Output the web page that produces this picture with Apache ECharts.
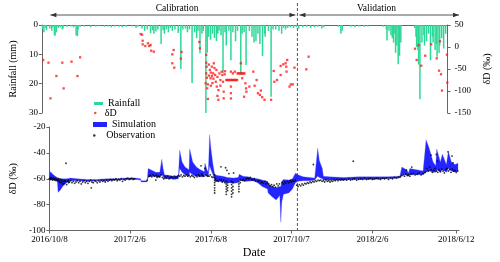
<!DOCTYPE html>
<html><head><meta charset="utf-8">
<script src="https://cdn.jsdelivr.net/npm/echarts@6/dist/echarts.min.js"></script>
<style>html,body{margin:0;padding:0;background:#fff}#c{width:500px;height:262px}</style>
</head><body><div id="c"></div><script>
// x values are days after 2016/10/8
const tickDays = [0,121,243,364,486,612];
const tickLabels = ['2016/10/8','2017/2/6','2017/6/8','2017/10/7','2018/2/6','2018/6/12'];
const calibrationEndDay = 373;

const rainfall = [[1,1.5],[3,2.5],[6,1.0],[7,1.8],[12,1.2],[15,2.0],[16,0.8],[19,3.4],[20,3.7],[22,2.5],[25,1.0],[28,0.8],[31,1.5],[32,1.2],[38,0.6],[44,0.5],[48,0.8],[52,3.6],[54,3.8],[55,1.5],[58,0.6],[64,0.5],[74,0.8],[82,0.5],[87,0.4],[95,0.6],[101,0.5],[105,0.8],[111,0.5],[117,0.6],[122,0.8],[128,0.6],[137,0.5],[143,1.0],[146,0.5],[152,1.2],[156,2.0],[160,1.5],[165,2.8],[168,1.8],[170,3.0],[173,2.2],[176,1.5],[181,6.5],[184,1.8],[186,3.0],[189,1.5],[192,2.5],[195,1.0],[198,2.0],[202,1.5],[207,2.7],[211,15],[214,1.5],[218,1.2],[221,2.5],[224,1.5],[228,19.8],[232,2.5],[235,4.5],[237,2.0],[240,9.6],[243,3.0],[245,2.0],[249,30],[251,9.5],[253,4.0],[256,5.0],[259,3.0],[262,4.5],[265,5.5],[267,3.0],[269,2.0],[272,3.5],[275,16.4],[278,2.5],[280,7.0],[284,2.0],[287,12],[290,2.5],[294,5.5],[297,2.0],[302,17],[304,3.0],[307,2.5],[310,13.6],[315,2.0],[319,4.0],[322,6.0],[325,5.5],[328,3.0],[331,6.5],[335,10.6],[338,3.0],[339,4.0],[344,2.0],[348,24.5],[351,1.5],[355,1.5],[360,2.0],[364,3.0],[367,1.0],[370,1.5],[373,1.0],[377,0.8],[382,1.0],[386,0.6],[390,1.2],[396,0.8],[402,0.6],[408,1.0],[414,0.8],[419,0.6],[425,1.2],[428,0.8],[450,0.6],[454,3.0],[456,2.0],[469,0.6],[475,0.8],[481,0.5],[489,0.6],[495,0.5],[518,0.6],[523,1.5],[524,5.3],[527,2.0],[530,3.5],[532,4.5],[534,6.0],[536,3.0],[537,9.5],[539,7.0],[541,13.4],[543,10.5],[545,6.0],[566,1.0],[568,4.0],[569,7.5],[571,8.5],[572,13.5],[574,25.3],[577,6.0],[580,3.5],[581,7.0],[584,5.5],[587,3.0],[590,12],[593,4.0],[594,6.0],[597,8.5],[599,6.5],[600,10.8],[603,9.5],[604,7.0],[607,4.5],[610,8.0],[613,3.0]];

const rainDeltaD = [[2,-29.5],[10,-35.6],[13,-116.7],[22,-65.9],[31,-35.6],[33,-94],[45,-33.3],[54,-66],[58,-23.4],[150,29.5],[152,28],[153,14.3],[153,6],[157,2.3],[161,8.4],[163,2.3],[165,4.5],[166,-8.4],[170,-10.6],[200,-6.8],[198,-16.6],[198,-37],[201,-47],[239,11.4],[240,-3],[212,-11.4],[211,-26.5],
[249.5,-18],[249.5,-35.6],[249.5,-60],[248.6,-82.5],[251,-94],[252,-118],[255,-52],[258,-44.7],[261,-37],[260,-60],[256,-71],[263,-63.6],[264,-79],[265.5,-90],[266.5,-111],[268,-120],[273,-56],[274,-63.6],[275,-79],[276,-101.6],[276,-116.7],
[280,-75],[281.5,-75],[283,-75],[284.5,-75],[286,-75],[287.5,-75],[289,-75],[290.5,-75],[292,-75],[293.5,-75],[295,-75],[296.5,-75],
[287,-56],[290,-60],[293,-56],[287,-90],[287,-105],[287,-117],
[297,-60],[298.5,-60],[300,-60],[301.5,-60],[303,-60],[304.5,-60],[306,-60],[307.5,-60],
[302,-37],[304,-71],[309,-82.5],[310,-94],[310.5,-101.6],[307,-113],[315,-90],[321,-56],[323,-88],[326,-75],[328,-105],[331,-109],[332.5,-99],[334.5,-114],[338,-120],[348,-120],[352,-54.5],[353,-79],[357,-75],[362.5,-63.6],[362.5,-43],[366.5,-39.4],[370,-37],[371,-44.7],[371.5,-56],[372.5,-29.5],[376,-90],[378,-85],[381,-85],[383.5,-47],[401.5,-50.7],[405,-22],
[250,-45],[250.5,-70],[253.5,-40],[256.5,-58],[258,-66],[259,-82],[262,-48],[265,-52],[266.5,-68],[269.5,-60],[271,-75],[252,-85],[268,-98],[271,-88],[277.5,-62],[278,-55],[253.5,-65],[256.5,-88],[260.5,-72],
[566.5,-3.9],[572,3.9],[569,-29.5],[576,-42.5],[582,-19.8],[591,6],[599.5,-25.8],[603,-53.8],[604.5,13],[606,-62],[607.5,-99],[615,-17.5],[615.5,-81]];

const simDays = [0,1.5,6,10,12,13,16,20,26,32,42,57,71,86,100,115,130,137,138,147,148.5,154,160,166,169,171,173,181,188,194,196,199.5,204,210,211,215.5,221,227,233,234,237,239,241,243,246,248,249,253,261,268,277,284,285.5,291,298.5,306,313,320,328,329,335,341,346.5,348,349.5,352,360,365.5,370,374,381.5,391.5,399,403.5,406,410.5,412,421,443,465,486,508,527,530,537,540,542,552,562,566.5,571,577,581,582.5,588,591,597,600,604.5,610,614.5];
const simLow = [-61,-61,-61,-61,-62,-70.5,-69,-66,-63,-61.5,-61.5,-62,-61.5,-61.5,-61,-60.5,-60.5,-61,-62.5,-62.5,-59,-58,-58.5,-59,-57,-58,-60,-60,-60.5,-60,-52,-55,-57,-58,-55,-57,-58,-58.5,-58.5,-56,-57.5,-58,-50,-53,-57,-60,-62.5,-62,-62.5,-63,-63.5,-63,-61,-62,-62,-61.5,-63,-66,-68,-71,-74,-76.5,-73,-93.5,-78,-72,-71,-68,-63,-62,-61.5,-61.5,-61,-58,-59,-60,-61,-61,-61,-60.5,-60.5,-60,-59.5,-57,-57,-58,-57,-57,-57,-55,-54,-55,-55,-53,-55,-53,-55,-52,-54,-55,-54];
const simHigh = [-56,-54.5,-57,-58.5,-59,-59.5,-60,-60,-60,-59.5,-60,-60.5,-60.5,-60,-60,-59.5,-59.5,-60,-61.5,-61.5,-52,-53.5,-55,-55,-45,-52,-57,-57.5,-58,-57.5,-38,-47,-51,-53,-37,-47,-51,-53,-54.5,-48,-53,-55,-26,-37,-49,-55,-57,-57.5,-58,-59,-59.5,-59,-56.5,-58,-58.5,-59.5,-60,-61,-62,-64,-66,-67,-66,-66,-62,-60.5,-61,-60,-55.7,-57,-58.5,-59,-59.5,-36.5,-46,-52,-58,-58.5,-59,-58.5,-58.5,-58.5,-58,-51,-53,-55.5,-52,-53,-54,-30,-36,-47,-50,-37,-47,-41,-49,-39,-47,-49,-48];

const observation = [[0,-60],[1,-59.5],[2,-60.5],[3,-59],[4,-60],[5,-61],[6,-59.5],[7,-60.5],[8,-61],[9,-60],[10,-61.5],[11,-60.5],[12,-61],
[13,-62],[14,-60],[15,-61.5],[16,-63],[17,-60.5],[18,-62.5],[19,-61],[20,-64],[21,-62],[22,-63.5],[23,-61.5],[24,-62],[25,-48],[26,-64.5],[27,-62],[28,-61.5],[29,-63],[30,-62.5],[32,-61.5],[34,-63],
[36,-62],[38,-63.5],[40,-62.5],[42,-61.5],[44,-63],[46,-62],[48,-64],[50,-62.5],[52,-61.5],[54,-63],[56,-62],[58,-63.5],[60,-62],[62,-61],[63,-67],[64,-62.5],[66,-63],[68,-61.5],[70,-62],[72,-63],[74,-61.5],[76,-62.5],[78,-61],[80,-62],[82,-61.5],[84,-62.5],[86,-61],[88,-62],[90,-61],[92,-60.5],
[94,-61.5],[96,-60.5],[98,-61],[100,-60],[102,-61.5],[104,-60.5],[106,-61],[108,-60],[110,-62],[112,-60.5],[114,-61],[116,-60],[118,-59.5],[120,-60.5],[122,-60],[124,-59.5],[126,-60.5],[128,-60],
[147,-61],[150,-58],[152,-57.5],[154,-58.5],[156,-57],[158,-58],[160,-61],[161,-57.5],[162,-59],[164,-58],[166,-58.5],[168,-57],
[170,-59],[172,-60],[174,-58.5],[176,-59.5],[178,-58],[180,-60],[182,-59],[184,-58.5],[186,-59.5],[188,-58],[190,-59],[192,-58.5],[194,-57.5],
[196,-58],[198,-57],[200,-58.5],[202,-57.5],[204,-58],[206,-57],[208,-58],[210,-57.5],
[212,-58.5],[214,-57.5],[216,-58],[218,-59],[220,-57.5],[222,-58.5],[224,-57],[226,-58],[228,-50],[229,-56.5],[230,-57.5],[232,-58],[234,-52],[235,-57],[236,-57.5],[238,-58],
[240,-58],[242,-57],[244,-58.5],[246,-59],
[248.5,-57],[248.5,-59],[248.5,-61],[248.5,-63],[248.5,-65],[248.5,-67],[248.5,-69],[248.5,-71],
[250,-60],[252,-61.5],[254,-62],[256,-60.5],[258,-50.8],[258.5,-61],[260,-62.5],[262,-61],[264,-63],
[265,-51.5],[267,-53.5],[270,-56],[277,-55.5],
[266,-62],[266,-64],[266,-66],[266,-68],[266,-70],[266,-72],[268,-63],[268,-65],[268,-67],[268,-69],
[274,-62],[274,-64.5],[274,-67],[274,-69.5],[274,-72],[274,-74],[276,-63],[276,-66],[276,-68.5],[276,-71],
[285,-62],[285,-64],[285,-66],[285,-68],[285,-70],[287,-61],[287,-63],
[290,-61],[292,-60.5],[294,-61.5],[296,-60],[298,-59.5],[300,-60],[302,-59],[304,-60.5],[306,-61],[308,-60],[310,-61.5],
[314,-62],[316,-61.5],[318,-63],[320,-62.5],[322,-63.5],[324,-62],[326,-64],[328,-63],
[330,-64],[332,-65.5],[334,-64.5],[336,-66],[338,-65],[340,-66.5],[342,-64],[344,-65.5],[346,-64],
[350,-63],[352,-64],[354,-62.5],[356,-63.5],[358,-62],[360,-63],[362,-61.5],[364,-62.5],[366,-61.5],[368,-62],[370,-61],
[372,-65],[374,-66],[376,-64.5],[378,-65.5],[380,-64],[382,-65],[384,-63.5],
[386,-64],[388,-63],[390,-63.5],[392,-62.5],[394,-63],[396,-62],[397,-49],[398,-62.5],[400,-61.5],[402,-62],[404,-61],[406,-61.5],
[408,-61],[410,-62],[412,-61.5],[414,-62.5],[416,-61],[418,-62],[420,-61.5],[422,-62.5],[424,-61.5],[426,-62],[428,-61],[430,-61.5],[432,-60.5],[434,-61.5],[436,-60.5],[438,-61],[440,-60.5],[442,-61],
[444,-60.5],[447,-61],[450,-60],[453,-61],[456,-60.5],[457,-46.4],[459,-60],[462,-61],[465,-60.5],[468,-60],[471,-60.5],[474,-59.5],[477,-60.5],[480,-60],[483,-59.5],[486,-60.5],[489,-60],[492,-59.5],[495,-60],[498,-60.5],[501,-59.5],[504,-60],[507,-59.5],[510,-60.5],[513,-59.5],[516,-60],[519,-59],[522,-59.5],[525,-58.5],
[528,-58.5],[530,-57.5],[532,-57],[534,-58],[536,-56.5],[537,-53.4],[538,-57.5],[540,-57],[542,-58],[544,-56.5],[545,-51],
[547,-56],[550,-57],[553,-56.5],[556,-55.5],[559,-57],[562,-56],[565,-55],
[568,-52],[570,-54],[572,-51],[574,-53],[574,-41.7],[576,-55],[578,-53.5],[580,-52],[582,-54],[582,-41.2],[583.5,-46.4],[584,-55],[586,-53],[588,-54.5],[590,-52.5],[592,-54],[594,-55.5],[596,-53],[598,-52],[599.5,-39.2],[600,-54],[602,-53],[604,-55],[605.5,-42.5],[606,-52.5],[607,-47.7],[608,-54],[610,-53.5],[612,-55],[614,-54]];

const FONT = 'Liberation Serif';
const AXIS_COLOR = '#666';
const SIM_COLOR = '#2424ff';
const RAIN_COLOR = '#2cd896';
const chart = echarts.init(document.getElementById('c'), null, {renderer:'canvas'});

const lab = {fontFamily:FONT, fontSize:9, color:'#000'};
const nameStyle = {fontFamily:FONT, fontSize:10, color:'#000'};
const axLine = {show:true, onZero:false, lineStyle:{color:AXIS_COLOR, width:1}};
const axTick = {show:true, length:3, lineStyle:{color:AXIS_COLOR}};

function legendOf(name, icon, color, left, top, w, h){
  return {data:[{name:name, icon:icon, itemStyle:{color:color}}], left:left, top:top, itemWidth:w, itemHeight:h,
    padding:0, selectedMode:false, textStyle:{fontFamily:FONT, fontSize:10, color:'#000', lineHeight:10}};
}

chart.setOption({
  animation:false,
  backgroundColor:'#fff',
  grid:[{left:36, right:41, top:25, height:88}, {left:36, right:41, top:127, height:103.5}],
  xAxis:[
    {gridIndex:0, type:'value', min:0, max:616, position:'top', axisLine:axLine, axisTick:{show:false}, axisLabel:{show:false}, splitLine:{show:false}},
    {gridIndex:1, type:'value', min:0, max:616, axisLine:axLine,
      axisTick:Object.assign({customValues:tickDays}, axTick),
      axisLabel:Object.assign({customValues:tickDays, margin:5, formatter:function(v){
        for (let i=0;i<tickDays.length;i++){ if (Math.abs(tickDays[i]-v)<0.5) return tickLabels[i]; } return ''; }}, lab),
      splitLine:{show:false}, name:'Date', nameLocation:'middle', nameGap:16,
      nameTextStyle:{fontFamily:FONT, fontSize:12, color:'#000'}}
  ],
  yAxis:[
    {gridIndex:0, type:'value', inverse:true, min:0, max:30, interval:10, axisLine:axLine, axisTick:axTick,
      axisLabel:Object.assign({margin:4}, lab), splitLine:{show:false},
      name:'Rainfall (mm)', nameLocation:'middle', nameGap:23, nameRotate:90, nameTextStyle:nameStyle},
    {gridIndex:0, type:'value', position:'right', min:-150, max:50, interval:50, axisLine:axLine, axisTick:axTick,
      axisLabel:Object.assign({margin:7}, lab), splitLine:{show:false},
      name:'δD (‰)', nameLocation:'middle', nameGap:27, nameRotate:90, nameTextStyle:nameStyle},
    {gridIndex:1, type:'value', min:-100, max:-20, interval:20, axisLine:axLine, axisTick:axTick,
      axisLabel:Object.assign({margin:4}, lab), splitLine:{show:false},
      name:'δD (‰)', nameLocation:'middle', nameGap:23, nameRotate:90, nameTextStyle:nameStyle}
  ],
  legend:[
    legendOf('Rainfall','rect',RAIN_COLOR,94,98.5,9,3),
    legendOf('δD','circle','#ff1a1a',94,108,9,2.5),
    legendOf('Simulation','rect',SIM_COLOR,93,119.5,14,5),
    legendOf('Observation','circle','#000',93,130.5,14,2.5)
  ],
  series:[
    {name:'Rainfall', type:'bar', xAxisIndex:0, yAxisIndex:0, barWidth:1.5, itemStyle:{color:RAIN_COLOR}, data:rainfall, z:2},
    {name:'δD', type:'scatter', xAxisIndex:0, yAxisIndex:1, symbol:'rect', symbolSize:2.3, itemStyle:{color:'#ff1a1a'}, data:rainDeltaD, z:3},
    {name:'Simulation', type:'custom', coordinateSystem:'cartesian2d', xAxisIndex:1, yAxisIndex:2,
      itemStyle:{color:SIM_COLOR},
      data:simDays.map((d,i)=>[d, simLow[i], simHigh[i]]),
      encode:{x:0, y:[1,2]},
      renderItem:function(params, api){
        if (params.dataIndex !== 0) return null;
        const up = [], lo = [];
        for (let i=0;i<simDays.length;i++){
          up.push(api.coord([simDays[i], simHigh[i]]));
          lo.push(api.coord([simDays[i], simLow[i]]));
        }
        return {type:'polygon', shape:{points:up.concat(lo.reverse())},
          style:{fill:SIM_COLOR, stroke:'#5050ff', lineWidth:0.3}};
      }, z:2},
    {name:'Observation', type:'scatter', xAxisIndex:1, yAxisIndex:2, symbolSize:1.8, itemStyle:{color:'#000'}, data:observation, z:4}
  ]
});

const X = d => chart.convertToPixel({xAxisIndex:1}, d);
const x0 = X(0), xd = X(calibrationEndDay), x1 = X(616);
const yA = 15;
function head(x, y, dir){ return {type:'polygon', silent:true, shape:{points:[[x,y],[x-dir*6,y-2.2],[x-dir*6,y+2.2]]}, style:{fill:'#333'}}; }
function seg(a, b, y){ return {type:'line', silent:true, shape:{x1:a, y1:y, x2:b, y2:y}, style:{stroke:'#555', lineWidth:1}}; }
function txt(t, x, y){ return {type:'text', silent:true, x:x, y:y, style:{text:t, fontFamily:FONT, fontSize:9.5, fill:'#000', align:'center', verticalAlign:'middle'}}; }
chart.setOption({graphic:[
  seg(x0+1, xd-2, yA), head(x0+1, yA, -1), head(xd-2, yA, 1),
  seg(xd+2, x1, yA), head(xd+2, yA, -1), head(x1, yA, 1),
  txt('Calibration', X(192), 8), txt('Validation', X(492), 8),
  {type:'line', silent:true, shape:{x1:xd, y1:3, x2:xd, y2:230.5}, style:{stroke:'#555', lineWidth:1, lineDash:[3,2]}}
]});
</script></body></html>
